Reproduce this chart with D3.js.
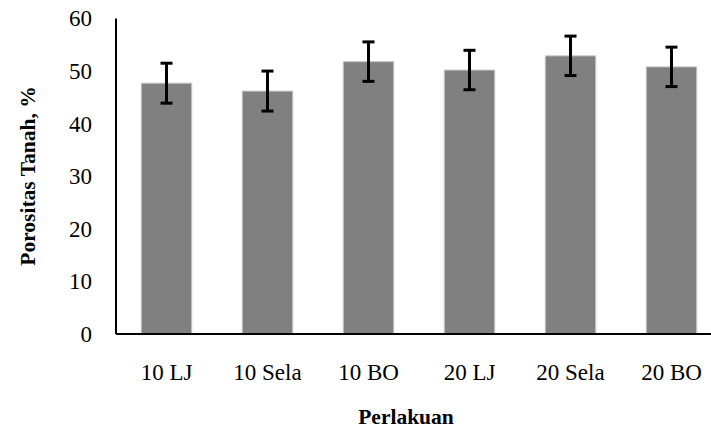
<!DOCTYPE html>
<html>
<head>
<meta charset="utf-8">
<script src="https://cdn.jsdelivr.net/npm/d3@7"></script>
<style>
  html, body { margin: 0; padding: 0; background: #fff; }
  svg { display: block; }
  text { font-family: "Liberation Serif", "DejaVu Serif", serif; fill: #000; }
</style>
</head>
<body>
<svg id="chart" width="711" height="430"></svg>
<script>
// Soil porosity per treatment with standard error bars
const categories = ["10 LJ", "10 Sela", "10 BO", "20 LJ", "20 Sela", "20 BO"];
const porosity = [47.7, 46.2, 51.8, 50.2, 52.9, 50.8];
const errors = [3.8, 3.8, 3.75, 3.75, 3.75, 3.75];
const yTicks = [0, 10, 20, 30, 40, 50, 60];
const yTitle = "Porositas Tanah, %";
const xTitle = "Perlakuan";

const svg = d3.select("#chart");
const plotLeft = 116, plotBottom = 334, plotTop = 18.5;

const x = d3.scaleBand()
  .domain(categories)
  .range([plotLeft, plotLeft + 101 * categories.length])
  .paddingInner(0.5)
  .paddingOuter(0.25);

const y = d3.scaleLinear().domain([0, 60]).range([plotBottom, plotTop]);

// bars
svg.append("g").selectAll("rect")
  .data(categories)
  .join("rect")
  .attr("x", d => x(d))
  .attr("y", (d, i) => y(porosity[i]))
  .attr("width", x.bandwidth())
  .attr("height", (d, i) => y(0) - y(porosity[i]))
  .attr("fill", "#808080")
  .attr("stroke", "#c8c8c8")
  .attr("stroke-width", 1);

// error bars
const eb = svg.append("g").attr("stroke", "#000").attr("stroke-width", 3);
categories.forEach((c, i) => {
  const cx = x(c) + x.bandwidth() / 2;
  const hi = y(porosity[i] + errors[i]);
  const lo = y(porosity[i] - errors[i]);
  eb.append("line").attr("x1", cx).attr("x2", cx).attr("y1", hi).attr("y2", lo);
  eb.append("line").attr("x1", cx - 6).attr("x2", cx + 6).attr("y1", hi).attr("y2", hi);
  eb.append("line").attr("x1", cx - 6).attr("x2", cx + 6).attr("y1", lo).attr("y2", lo);
});

// y axis
const yAxis = svg.append("g")
  .attr("transform", `translate(${plotLeft},0)`)
  .call(d3.axisLeft(y).tickValues(yTicks).tickSize(0).tickPadding(24));
yAxis.attr("font-family", "Liberation Serif").attr("font-size", 23);
yAxis.select(".domain").attr("stroke", "#000").attr("stroke-width", 2)
  .attr("d", `M0,${y(60)}V${plotBottom}`);
yAxis.selectAll("text").attr("dy", "0.32em");

// x axis
const xAxis = svg.append("g")
  .attr("transform", `translate(0,${plotBottom})`)
  .call(d3.axisBottom(x).tickSize(0).tickPadding(30));
xAxis.attr("font-family", "Liberation Serif").attr("font-size", 23);
xAxis.select(".domain").attr("stroke", "#000").attr("stroke-width", 2)
  .attr("d", `M${plotLeft},0H711`);
xAxis.selectAll("text").attr("dy", "0.71em");

// axis titles
svg.append("text")
  .attr("transform", "translate(35,176) rotate(-90)")
  .attr("text-anchor", "middle")
  .attr("font-size", 21.5)
  .attr("font-weight", "bold")
  .text(yTitle);

svg.append("text")
  .attr("x", 406)
  .attr("y", 424)
  .attr("text-anchor", "middle")
  .attr("font-size", 21.5)
  .attr("font-weight", "bold")
  .text(xTitle);
</script>
</body>
</html>
